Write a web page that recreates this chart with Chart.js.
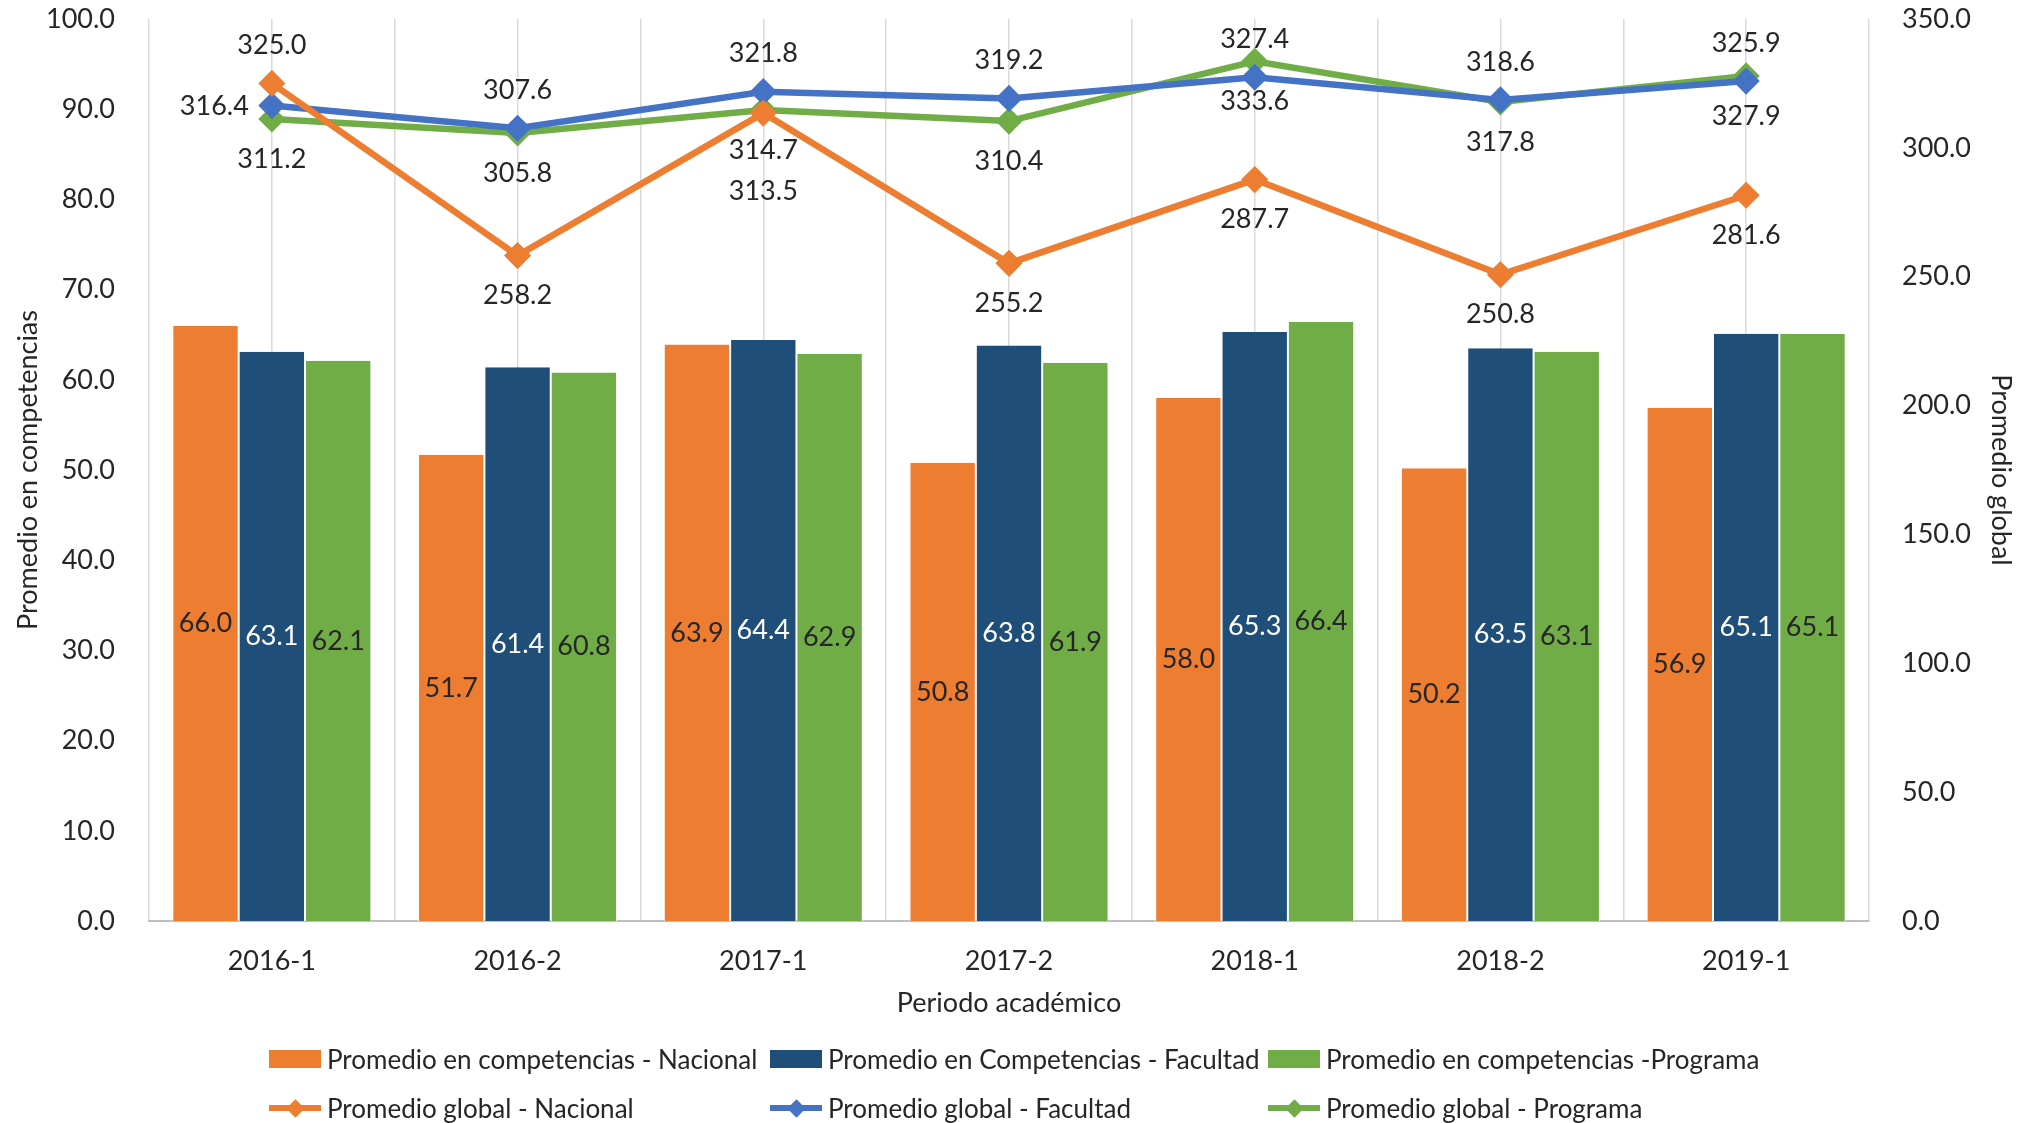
<!DOCTYPE html>
<html>
<head>
<meta charset="utf-8">
<script src="https://cdn.jsdelivr.net/npm/chart.js@4.4.0/dist/chart.umd.min.js"></script>
<style>
  body { margin: 0; background: #fff; }
  #wrap { position: relative; width: 2037px; height: 1123px; }
  .lg { position: absolute; font: 26px Lato, sans-serif; color: #262626; white-space: nowrap; line-height: 32px; }
  .sw { position: absolute; }
</style>
</head>
<body>
<div id="wrap">
  <canvas id="chart"></canvas>
  <div id="legend"></div>
</div>
<script>
var periodos = ['2016-1', '2016-2', '2017-1', '2017-2', '2018-1', '2018-2', '2019-1'];

// promedio en competencias (eje izquierdo)
var compNacional = [66.0, 51.7, 63.9, 50.8, 58.0, 50.2, 56.9];
var compFacultad = [63.1, 61.4, 64.4, 63.8, 65.3, 63.5, 65.1];
var compPrograma = [62.1, 60.8, 62.9, 61.9, 66.4, 63.1, 65.1];

// promedio global (eje derecho)
var globNacional = [325.0, 258.2, 313.5, 255.2, 287.7, 250.8, 281.6];
var globFacultad = [316.4, 307.6, 321.8, 319.2, 327.4, 318.6, 325.9];
var globPrograma = [311.2, 305.8, 314.7, 310.4, 333.6, 317.8, 327.9];

var ticksIzq = [0, 10, 20, 30, 40, 50, 60, 70, 80, 90, 100];
var ticksDer = [0, 50, 100, 150, 200, 250, 300, 350];

// donde va la etiqueta de cada punto de las lineas
var posNacional = ['top', 'bottom', 'bottom2', 'bottom', 'bottom', 'bottom', 'bottom'];
var posFacultad = ['left', 'top', 'top', 'top', 'top', 'top', 'top'];
var posPrograma = ['bottom', 'bottom', 'bottom', 'bottom', 'bottom', 'bottom', 'bottom'];

var naranja = '#ED7D31', azulOsc = '#1F4E79', azul = '#4472C4', verde = '#70AD47';
var texto = '#262626';
var fuente = 'Lato, sans-serif';

var etiquetas = {
	id: 'etiquetas',
	afterDatasetsDraw: function(chart) {
		var ctx = chart.ctx;
		ctx.save();
		ctx.font = '27px ' + fuente;
		ctx.textBaseline = 'middle';
		chart.data.datasets.forEach(function(ds, i) {
			var meta = chart.getDatasetMeta(i);
			meta.data.forEach(function(el, j) {
				var txt = ds.data[j].toFixed(1);
				ctx.textAlign = 'center';
				if (ds.type === 'bar') {
					ctx.fillStyle = ds.labelColor;
					ctx.fillText(txt, el.x, (el.y + el.base) / 2);
				} else {
					ctx.fillStyle = texto;
					var p = ds.labelPos[j];
					if (p === 'top') ctx.fillText(txt, el.x, el.y - 38);
					else if (p === 'bottom') ctx.fillText(txt, el.x, el.y + 40);
					else if (p === 'bottom2') ctx.fillText(txt, el.x, el.y + 78);
					else if (p === 'left') { ctx.textAlign = 'right'; ctx.fillText(txt, el.x - 23, el.y + 1); }
				}
			});
		});
		ctx.restore();
	}
};

function barra(label, data, color, labelColor) {
	return {
		type: 'bar', label: label, data: data, yAxisID: 'y', xAxisID: 'x',
		backgroundColor: color, borderColor: '#ffffff',
		borderWidth: {left: 1, right: 1, top: 0, bottom: 0},
		barPercentage: 1.0, categoryPercentage: 0.81,
		labelColor: labelColor, order: 2
	};
}
function linea(label, data, color, pos) {
	return {
		type: 'line', label: label, data: data, yAxisID: 'y2', xAxisID: 'x',
		borderColor: color, backgroundColor: color, borderWidth: 6.5,
		pointStyle: 'rectRot', pointRadius: 9, pointHoverRadius: 9,
		fill: false, tension: 0, labelPos: pos, order: 1
	};
}

var chartdata = {
	labels: periodos,
	datasets: [
		barra('Promedio en competencias - Nacional', compNacional, naranja, texto),
		barra('Promedio en Competencias - Facultad', compFacultad, azulOsc, '#ffffff'),
		barra('Promedio en competencias -Programa', compPrograma, verde, texto),
		linea('Promedio global - Nacional', globNacional, naranja, posNacional),
		linea('Promedio global - Facultad', globFacultad, azul, posFacultad),
		linea('Promedio global - Programa', globPrograma, verde, posPrograma)
	]
};

function sinRelleno(s) { s.paddingTop = 0; s.paddingBottom = 0; s.paddingLeft = 0; s.paddingRight = 0; }

var ctx = document.getElementById('chart');
var grafico = new Chart(ctx, {
	data: chartdata,
	plugins: [etiquetas],
	options: {
		responsive: true,
		maintainAspectRatio: false,
		animation: false,
		layout: {padding: {top: 19, bottom: 93, left: 0, right: 0}},
		plugins: {legend: {display: false}, tooltip: {enabled: false}},
		scales: {
			x: {
				type: 'category', position: 'bottom', offset: true,
				grid: {offset: true, color: '#D9D9D9', lineWidth: 1.5, drawTicks: false},
				border: {display: true, color: '#BFBFBF', width: 2},
				ticks: {color: texto, font: {family: fuente, size: 27}, padding: 24},
				title: {display: true, text: 'Periodo académico', color: texto, font: {family: fuente, size: 27}, padding: {top: 0, bottom: 11}},
				afterFit: function(s) { s.height = 109; sinRelleno(s); }
			},
			xg: {
				type: 'category', position: 'top', labels: periodos, offset: true,
				grid: {offset: false, color: '#D9D9D9', lineWidth: 1.5, drawTicks: false},
				border: {display: false},
				ticks: {display: false},
				afterFit: function(s) { s.height = 0; sinRelleno(s); }
			},
			y: {
				type: 'linear', position: 'left', min: 0, max: 100,
				afterBuildTicks: function(s) { s.ticks = ticksIzq.map(function(v) { return {value: v}; }); },
				grid: {display: false}, border: {display: false},
				ticks: {color: texto, font: {family: fuente, size: 27}, padding: 26, callback: function(v) { return v.toFixed(1); }},
				title: {display: true, text: 'Promedio en competencias', color: texto, font: {family: fuente, size: 27}, padding: {top: 12, bottom: 0}},
				afterFit: function(s) { s.width = 149; sinRelleno(s); }
			},
			y2: {
				type: 'linear', position: 'right', min: 0, max: 350,
				afterBuildTicks: function(s) { s.ticks = ticksDer.map(function(v) { return {value: v}; }); },
				grid: {display: false}, border: {display: false},
				ticks: {color: texto, font: {family: fuente, size: 27}, padding: 25, callback: function(v) { return v.toFixed(1); }},
				title: {display: true, text: 'Promedio global', color: texto, font: {family: fuente, size: 27}, padding: {top: 20, bottom: 0}},
				afterFit: function(s) { s.width = 168; sinRelleno(s); }
			}
		}
	}
});

// leyenda en dos filas con columnas alineadas, como en el original
var colX = [269, 770, 1268];
var filaY = [1059, 1108];
var leg = document.getElementById('legend');
chartdata.datasets.forEach(function(ds, i) {
	var col = i % 3, fila = Math.floor(i / 3);
	var cy = filaY[fila];
	if (ds.type === 'bar') {
		var r = document.createElement('div');
		r.className = 'sw';
		r.style.cssText = 'left:' + colX[col] + 'px;top:' + (cy - 9) + 'px;width:52px;height:18px;background:' + ds.backgroundColor;
		leg.appendChild(r);
	} else {
		var l = document.createElement('div');
		l.className = 'sw';
		l.style.cssText = 'left:' + colX[col] + 'px;top:' + (cy - 3) + 'px;width:52px;height:6px;background:' + ds.borderColor;
		leg.appendChild(l);
		var d = document.createElement('div');
		d.className = 'sw';
		d.style.cssText = 'left:' + (colX[col] + 26 - 6.5) + 'px;top:' + (cy - 6.5) + 'px;width:13px;height:13px;transform:rotate(45deg);background:' + ds.borderColor;
		leg.appendChild(d);
	}
	var t = document.createElement('div');
	t.className = 'lg';
	t.textContent = ds.label;
	t.style.left = (colX[col] + 58) + 'px';
	t.style.top = (cy - 16) + 'px';
	leg.appendChild(t);
});
</script>
</body>
</html>
